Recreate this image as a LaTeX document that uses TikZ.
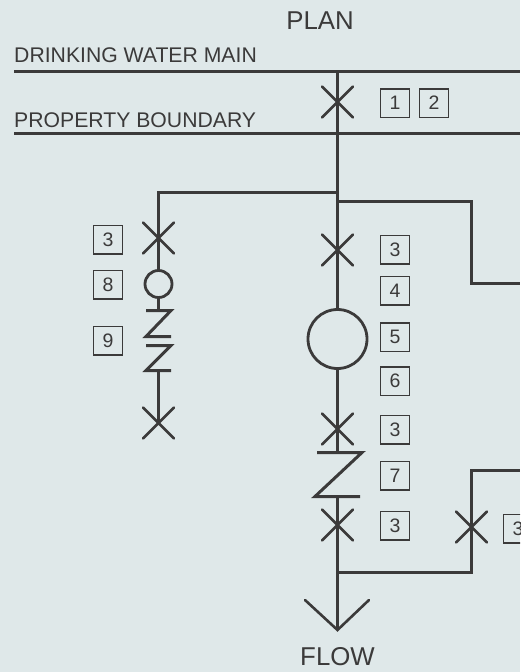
\documentclass[tikz,border=0pt]{standalone}
\usepackage{fontspec}
\setmainfont{Liberation Sans}
\usetikzlibrary{shapes.misc}
\definecolor{ink}{HTML}{3B3A3A}
\definecolor{bg}{HTML}{DFE8E9}
\tikzset{
  main/.style={draw=ink,line width=3pt},
  pipe/.style={draw=ink,line width=3pt,line join=miter},
  valve/.style={cross out,draw=ink,line width=2.6pt,line cap=round,minimum size=31pt,inner sep=0pt,outer sep=0pt},
  meter/.style={circle,draw=ink,line width=2.8pt,inner sep=0pt,outer sep=0pt},
  tag/.style={draw=ink,line width=1.5pt,minimum width=29pt,minimum height=28.5pt,inner sep=0pt,text=ink,font=\fontsize{19.5}{22}\selectfont},
  label/.style={text=ink,inner sep=0pt},
  big/.style={label,font=\fontsize{25.8}{28}\selectfont},
  small/.style={label,anchor=base west,font=\fontsize{21.2}{24}\selectfont},
}
\begin{document}
\begin{tikzpicture}[x=1pt,y=-1pt]
\useasboundingbox (0,0) rectangle (520,672);
\clip (0,0) rectangle (520,672);
\fill[bg] (0,0) rectangle (520,672);
% free ends and joints
\coordinate (mainL) at (14,71.5);
\coordinate (mainR) at (520,71.5);
\coordinate (mainT) at (337.5,71.5);
\coordinate (bndL) at (14,133.5);
\coordinate (bndR) at (520,133.5);
\coordinate (jL) at (337.5,192.5);
\coordinate (cL) at (158.5,192.5);
\coordinate (jR) at (337.5,201.5);
\coordinate (cR) at (471.5,201.5);
\coordinate (cR2) at (471.5,283.5);
\coordinate (endR) at (520,283.5);
\coordinate (jB) at (337.5,572.5);
\coordinate (cB) at (471.5,572.5);
\coordinate (cB2) at (471.5,470.5);
\coordinate (endB) at (520,470.5);
\coordinate (tip) at (337.5,630);
\coordinate (headL) at (305,600);
\coordinate (headR) at (369,600);
% texts
\node[big] (plan) at (320,21) {PLAN};
\node[small] (lmain) at (14,62.5) {DRINKING WATER MAIN};
\node[small] (lbnd) at (14,127.5) {PROPERTY BOUNDARY};
\node[big] (flow) at (337.5,657) {FLOW};
% devices
\node[valve] (v1) at (337.5,102) {};
\node[valve] (v2) at (337.5,250) {};
\node[meter,minimum size=59pt] (m1) at (337.5,339) {};
\node[valve] (v3) at (337.5,429) {};
\node[valve] (v4) at (337.5,525) {};
\node[valve] (v5) at (471.5,527) {};
\node[valve] (v6) at (158.5,238) {};
\node[meter,minimum size=27pt] (m2) at (158.5,284) {};
\node[valve] (v7) at (158.5,423) {};
% check valves
\coordinate (zaT) at (337.5,452);
\coordinate (zaB) at (337.5,496);
\coordinate (zbT) at (158.5,310);
\coordinate (zcB) at (158.5,370);
\draw[pipe] (317,452.5) -- (362,452.5) -- (315,496.5) -- (360,496.5);
\draw[pipe] (146,310.5) -- (171,310.5) -- (146,336.5) -- (171,336.5);
\draw[pipe] (146,345.5) -- (171,345.5) -- (146,370.5) -- (171,370.5);
% pipes
\draw[main] (mainL) -- (mainR);
\draw[main] (bndL) -- (bndR);
\draw[main] (mainT) -- (v1.center) -- (jL) -- (jR) -- (v2.center) -- (m1.north);
\draw[pipe] (jL) -- (cL) -- (v6.center) -- (m2.north);
\draw[pipe] (m2.south) -- (zbT);
\draw[pipe] (zcB) -- (v7.center);
\draw[pipe] (jR) -- (cR) -- (cR2) -- (endR);
\draw[main] (m1.south) -- (v3.center) -- (zaT);
\draw[main] (zaB) -- (v4.center) -- (jB) -- (tip);
\draw[pipe] (jB) -- (cB) -- (v5.center) -- (cB2) -- (endB);
\draw[draw=ink,line width=2.6pt,line cap=round,line join=miter] (headL) -- (tip) -- (headR);
% tags
\node[tag] (t1) at (395,103) {1};
\node[tag] (t2) at (434,103) {2};
\node[tag] (t3a) at (108,239.5) {3};
\node[tag] (t8) at (108,284.5) {8};
\node[tag] (t9) at (108,340.5) {9};
\node[tag] (t3b) at (395,249.5) {3};
\node[tag] (t4) at (395,290.5) {4};
\node[tag] (t5) at (395,337) {5};
\node[tag] (t6) at (395,381) {6};
\node[tag] (t3c) at (395,429.5) {3};
\node[tag] (t7) at (395,475.5) {7};
\node[tag] (t3d) at (395,525.5) {3};
\node[tag] (t3e) at (518,528.5) {3};
\end{tikzpicture}
\end{document}
